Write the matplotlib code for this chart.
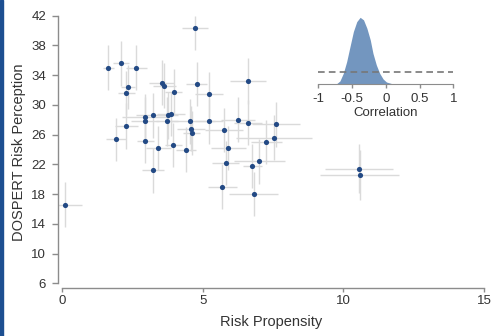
import numpy as np
import matplotlib
matplotlib.use('Agg')
import matplotlib.pyplot as plt
from matplotlib.patches import Rectangle

plt.rcParams['font.family'] = ['Liberation Sans', 'DejaVu Sans']

# risk propensity vs DOSPERT risk perception (one point per participant)
risk_prop = np.array([0.1, 1.64, 1.9, 2.09, 2.28, 2.34, 2.28, 2.63, 2.94, 2.93, 2.95,
                      3.22, 3.22, 3.42, 3.53, 3.63, 3.75, 3.86, 3.73, 3.96, 3.95, 4.4,
                      4.54, 4.57, 4.6, 4.71, 4.78, 5.23, 5.22, 5.76, 5.9, 5.81, 5.69,
                      6.26, 6.62, 6.62, 6.76, 6.81, 7.01, 7.26, 7.52, 7.6, 10.55, 10.58])
risk_perc = np.array([16.6, 35.0, 25.4, 35.6, 31.6, 32.4, 27.2, 35.0, 28.4, 27.8, 25.2,
                      28.6, 21.2, 24.2, 33.0, 32.6, 28.6, 28.8, 27.8, 31.8, 24.6, 24.0,
                      27.8, 26.8, 26.2, 40.4, 32.8, 31.4, 27.8, 26.6, 24.2, 22.2, 19.0,
                      28.0, 33.2, 27.6, 21.8, 18.0, 22.4, 25.0, 25.6, 27.4, 21.4, 20.6])
prop_err = np.array([0.6, 0.2, 0.35, 0.28, 0.3, 0.25, 0.4, 0.38, 0.8, 0.5, 0.3,
                     0.6, 0.4, 0.45, 0.45, 0.4, 0.35, 0.5, 0.4, 0.3, 0.3, 0.35,
                     0.9, 0.5, 0.3, 0.47, 0.37, 0.5, 0.5, 0.68, 0.62, 0.47, 0.52,
                     0.6, 0.64, 0.5, 0.34, 0.87, 0.9, 0.55, 1.35, 0.87, 1.2, 1.41])
perc_err = np.array([3.0, 3.0, 2.9, 3.0, 3.0, 3.0, 3.1, 3.0, 3.0, 3.2, 3.0,
                     3.0, 3.0, 3.0, 3.0, 3.0, 3.2, 3.0, 3.3, 3.0, 3.0, 3.0,
                     3.0, 3.0, 3.0, 3.0, 3.0, 3.0, 3.0, 3.0, 3.0, 3.0, 3.0,
                     3.0, 3.1, 3.0, 3.0, 3.0, 3.0, 3.0, 3.0, 3.0, 3.3, 3.4])

# posterior density of the correlation
corr_grid = [-0.74, -0.68, -0.63, -0.58, -0.53, -0.48, -0.43, -0.38, -0.33, -0.28,
             -0.23, -0.19, -0.14, -0.09, -0.04, 0.01, 0.11, 0.16]
corr_dens = [0.0, 0.13, 0.43, 0.89, 1.49, 2.08, 2.47, 2.64, 2.54, 2.21,
             1.75, 1.22, 0.76, 0.43, 0.21, 0.09, 0.01, 0.0]
prior_dens = 0.5

txt = '#333333'
spine = '#8c8c8c'

fig = plt.figure(figsize=(4.96, 3.36), dpi=100)
ax = fig.add_axes([58/496, 1 - 288.3/336, 426/496, 272.6/336])

up = np.minimum(perc_err, 42 - risk_perc)
ax.errorbar(risk_prop, risk_perc, xerr=prop_err, yerr=[perc_err, up], fmt='none',
            ecolor='#dadada', elinewidth=1, capsize=0, zorder=1)
ax.scatter(risk_prop, risk_perc, s=14, color='#234a85', zorder=3, linewidths=0)

ax.set_xlim(-0.153, 15)
ax.set_ylim(5.33, 42)
ax.set_xticks([0, 5, 10, 15])
ax.set_yticks(range(6, 43, 4))
for s in ['top', 'right']:
    ax.spines[s].set_visible(False)
ax.spines['left'].set_bounds(6, 42)
ax.spines['bottom'].set_bounds(0, 15)
for s in ['left', 'bottom']:
    ax.spines[s].set_color(spine)
    ax.spines[s].set_linewidth(1)
ax.tick_params(colors=spine, labelcolor=txt, labelsize=9.5, width=1)
ax.tick_params(axis='y', length=4.5, pad=4)
ax.tick_params(axis='x', length=3, pad=1.5)
ax.set_xlabel('Risk Propensity', fontsize=10.5, color=txt, labelpad=6)
ax.set_ylabel('DOSPERT Risk Perception', fontsize=10.5, color=txt, labelpad=4)

# inset with the correlation posterior
ins = fig.add_axes([318.3/496, 1 - 84.3/336, 135/496, 68.5/336])
ins.fill_between(corr_grid, corr_dens, color='#7396bf', linewidth=0)
ins.axhline(prior_dens, color='#777777', lw=1.2, ls=(0, (4, 2.5)))
ins.set_xlim(-1, 1)
ins.set_ylim(0, 2.7)
ins.patch.set_alpha(0)
for s in ['top', 'right', 'left']:
    ins.spines[s].set_visible(False)
ins.spines['bottom'].set_color(spine)
ins.set_yticks([])
ins.set_xticks([-1, -0.5, 0, 0.5, 1])
ins.set_xticklabels(['-1', '-0.5', '0', '0.5', '1'])
ins.tick_params(colors=spine, labelcolor=txt, labelsize=9.5, length=3, width=1, pad=3)
ins.set_xlabel('Correlation', fontsize=9.5, color=txt, labelpad=2)

# frame strip on the left edge
fig.add_artist(Rectangle((0, 0), 3/496, 1, transform=fig.transFigure,
                         color='#1d4f91', zorder=10))

fig.savefig('out.png', dpi=100)
